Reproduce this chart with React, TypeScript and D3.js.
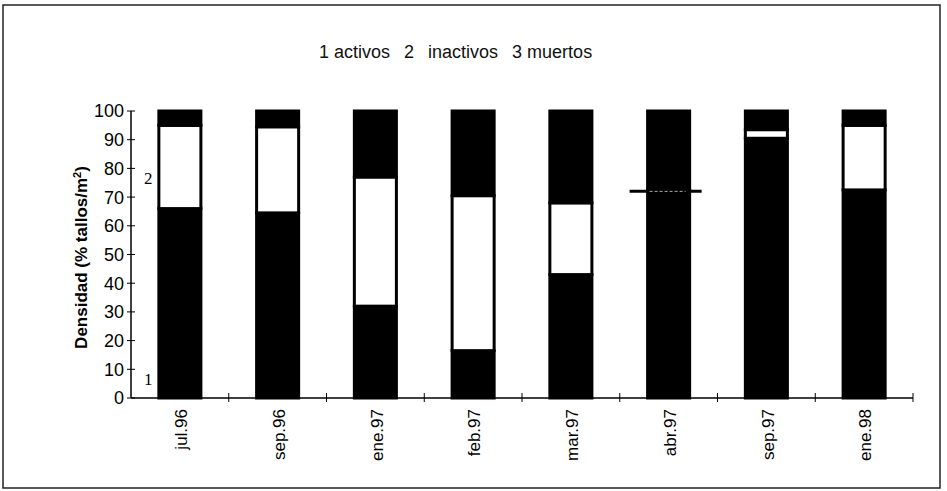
import React from "react";
import * as d3 from "d3";

const categories = ["jul.96", "sep.96", "ene.97", "feb.97", "mar.97", "abr.97", "sep.97", "ene.98"];
const activos = [66, 64.5, 32, 16.5, 43, 72, 90.5, 72.5];
const inactivos = [29, 30, 45, 54, 25, 0.5, 3, 22.5];
const muertos = [5, 5.5, 23, 29.5, 32, 27.5, 6.5, 5];
const yTicks = [0, 10, 20, 30, 40, 50, 60, 70, 80, 90, 100];
const seriesNames = ["activos", "inactivos", "muertos"];
const seriesFill = ["#000", "#fff", "#000"];
const legendParts = ["1 activos", "2", "inactivos", "3 muertos"];

const W = 947;
const H = 491;

export default function App() {
  const x = d3.scaleBand<string>().domain(categories).range([131, 913]).paddingInner(0.57).paddingOuter(0.285);
  const y = d3.scaleLinear().domain([0, 100]).range([398, 111]);
  const step = x.step();

  const rows = categories.map((c, i) => ({ cat: c, activos: activos[i], inactivos: inactivos[i], muertos: muertos[i] }));
  const stack = d3.stack<any>().keys(seriesNames)(rows);

  return (
    <svg width={W} height={H} style={{ position: "fixed", left: 0, top: 0, background: "#fff" }} fontFamily="Liberation Sans, Arial, sans-serif">
      <rect x={3} y={5} width={937} height={483} fill="#fff" stroke="#222" strokeWidth={1.5} />
      <text x={319} y={58} fontSize={18} fill="#111">
        {legendParts.map((p, i) => (
          <tspan key={p} dx={i === 0 ? 0 : 14}>{p}</tspan>
        ))}
      </text>
      {/* bars */}
      {stack.map((s, si) =>
        s.map((d, i) => {
          const x0 = x(categories[i])!;
          const y0 = y(d[1]);
          const h = y(d[0]) - y(d[1]);
          return (
            <rect key={si + "-" + i} x={x0} y={y0} width={x.bandwidth()} height={Math.max(h, 0)}
              fill={seriesFill[si]} stroke="#000" strokeWidth={3} />
          );
        })
      )}
      {/* thin inactivos marker */}
      {categories.map((c, i) =>
        inactivos[i] < 1 ? (
          <g key={"m" + c}>
            <line x1={x(c)! - 18} x2={x(c)! + x.bandwidth() + 12} y1={y(activos[i])} y2={y(activos[i])} stroke="#000" strokeWidth={3} />
            <line x1={x(c)! + 2} x2={x(c)! + x.bandwidth() - 4} y1={y(activos[i])} y2={y(activos[i])} stroke="#aaa" strokeWidth={1} strokeDasharray="3,2" />
          </g>
        ) : null
      )}
      {/* y axis */}
      <line x1={131} x2={131} y1={y(100)} y2={y(0)} stroke="#000" strokeWidth={1.5} />
      {yTicks.map((t) => (
        <g key={"y" + t}>
          <line x1={127} x2={135} y1={y(t)} y2={y(t)} stroke="#000" strokeWidth={1} />
          <text x={124} y={y(t)} dy="0.36em" textAnchor="end" fontSize={18} fill="#000">{t}</text>
        </g>
      ))}
      {/* x axis */}
      <line x1={131} x2={913} y1={y(0)} y2={y(0)} stroke="#000" strokeWidth={1.5} />
      {categories.map((c, i) => (
        <line key={"xt" + c} x1={131 + step * (i + 1)} x2={131 + step * (i + 1)} y1={y(0) - 5} y2={y(0) + 4} stroke="#000" strokeWidth={1} />
      ))}
      {categories.map((c) => {
        const cx = x(c)! + x.bandwidth() / 2;
        return (
          <text key={"xl" + c} transform={`translate(${cx + 1},409) rotate(-90)`} textAnchor="end" dy="0.36em" fontSize={17} fill="#000">{c}</text>
        );
      })}
      {/* y label */}
      <text transform={`translate(87,${(y(0) + y(100)) / 2 + 3}) rotate(-90)`} textAnchor="middle" fontSize={17} fontWeight="bold" fill="#000">
        Densidad (% tallos/m<tspan baselineShift="super" fontSize={11}>2</tspan>)
      </text>
      {/* segment labels */}
      <text x={144} y={y(77) + 7} fontFamily="Liberation Serif, Times New Roman, serif" fontSize={17} fill="#000">2</text>
      <text x={144} y={y(7) + 7} fontFamily="Liberation Serif, Times New Roman, serif" fontSize={17} fill="#000">1</text>
    </svg>
  );
}
